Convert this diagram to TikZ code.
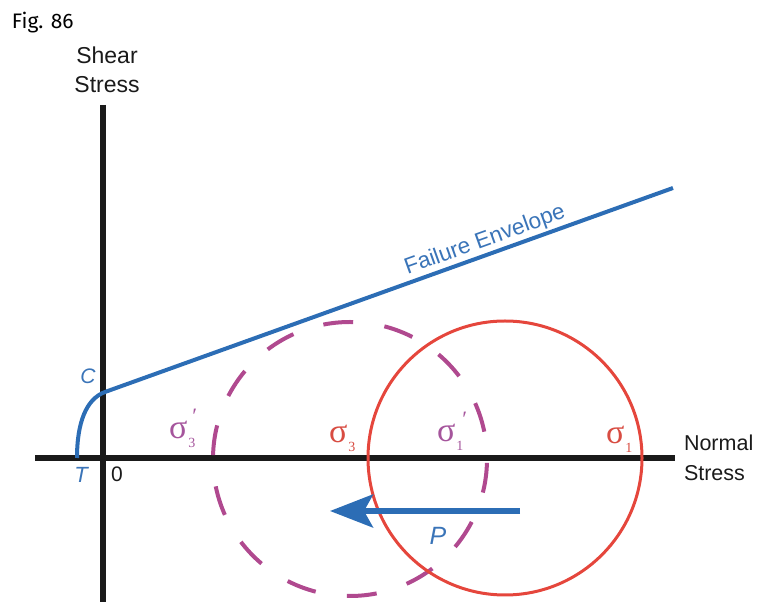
\documentclass[tikz,border=0pt]{standalone}
\usepackage{fontspec}
\setmainfont{Liberation Sans}
\newfontfamily\figfont{Fira Sans}
\newfontfamily\sigfont{Liberation Serif}
\usetikzlibrary{arrows.meta}
\definecolor{envblue}{HTML}{2C6DB5}
\definecolor{lblblue}{HTML}{3A74B8}
\definecolor{circred}{HTML}{E5463C}
\definecolor{sigred}{HTML}{D84C42}
\definecolor{circpurp}{HTML}{B0498F}
\definecolor{sigpurp}{HTML}{A5559C}
\definecolor{axisblack}{HTML}{1A1A1A}
\tikzset{
  axisline/.style={line width=5.5pt, draw=axisblack},
  envline/.style={line width=4pt, draw=envblue},
  redcirc/.style={line width=3pt, draw=circred},
  purpcirc/.style={line width=4pt, draw=circpurp, dash pattern=on 30pt off 31.5pt, dash phase=34pt},
  lbl/.style={inner sep=0pt, outer sep=0pt},
  axlbl/.style={lbl, font=\fontsize{23}{29}\selectfont, text=axisblack},
  sig/.style={lbl, font=\sigfont\fontsize{34}{34}\selectfont},
}
\newcommand{\subd}[1]{\kern1pt\raisebox{-9pt}{\fontsize{14}{14}\selectfont #1}}
\newcommand{\prm}{\raisebox{15pt}{\fontsize{22}{22}\selectfont ′}}
\begin{document}
\begin{tikzpicture}[x=1pt,y=1pt]
\useasboundingbox (0,0) rectangle (763,602);
% axes
\coordinate (vtop) at (103,497);
\coordinate (vbot) at (103,0);
\coordinate (hl) at (35,144);
\coordinate (hr) at (675,144);
\draw[axisline] (vtop) -- (vbot);
\draw[axisline] (hl) -- (hr);
% circles
\node[draw=none, inner sep=0pt] (rc) at (505,144) {};
\node[draw=none, inner sep=0pt] (pc) at (350,143) {};
\draw[purpcirc] (pc) circle[radius=137];
\draw[redcirc] (rc) circle[radius=137];
% failure envelope
\coordinate (tpt) at (77,144);
\coordinate (cpt) at (105,210);
\coordinate (eend) at (673,414);
\draw[envline] (tpt) .. controls (77,179) and (86,203) .. (cpt) -- (eend);
% arrow P
\coordinate (pstart) at (520,91);
\coordinate (pend) at (330,91);
\draw[line width=5.5pt, draw=envblue, -{Stealth[length=43pt,width=33pt,inset=9pt]}] (pstart) -- (pend);
% labels
\node[lbl, font=\figfont\fontsize{21}{21}\selectfont, anchor=north west] (fig) at (12,590) {Fig. 86};
\node[axlbl, align=center, anchor=north] (shear) at (107,555) {Shear\\Stress};
\node[axlbl, font=\fontsize{21.5}{30}\selectfont, align=left, anchor=north west] (normal) at (684,167) {Normal\\Stress};
\node[lbl, text=lblblue, font=\fontsize{21}{21}\selectfont\itshape] (C) at (88,226) {C};
\node[lbl, text=lblblue, font=\fontsize{22}{22}\selectfont\itshape] (T) at (81,127) {T};
\node[lbl, text=axisblack, font=\fontsize{21}{21}\selectfont] (zero) at (117,128) {0};
\node[lbl, text=lblblue, font=\fontsize{25}{25}\selectfont\itshape] (P) at (438,66) {P};
\node[lbl, text=lblblue, font=\fontsize{22.5}{22.5}\selectfont, rotate=19.8, anchor=base] (fe) at (487,356) {Failure Envelope};
\node[sig, text=sigpurp, anchor=base west] (s3p) at (169,163) {σ\subd{3}\kern-3pt\prm};
\node[sig, text=sigred, anchor=base west] (s3) at (329,159) {σ\subd{3}};
\node[sig, text=sigpurp, anchor=base west] (s1p) at (437,160) {σ\subd{1}\kern-1pt\prm};
\node[sig, text=sigred, anchor=base west] (s1) at (606,158) {σ\subd{1}};
\end{tikzpicture}
\end{document}
